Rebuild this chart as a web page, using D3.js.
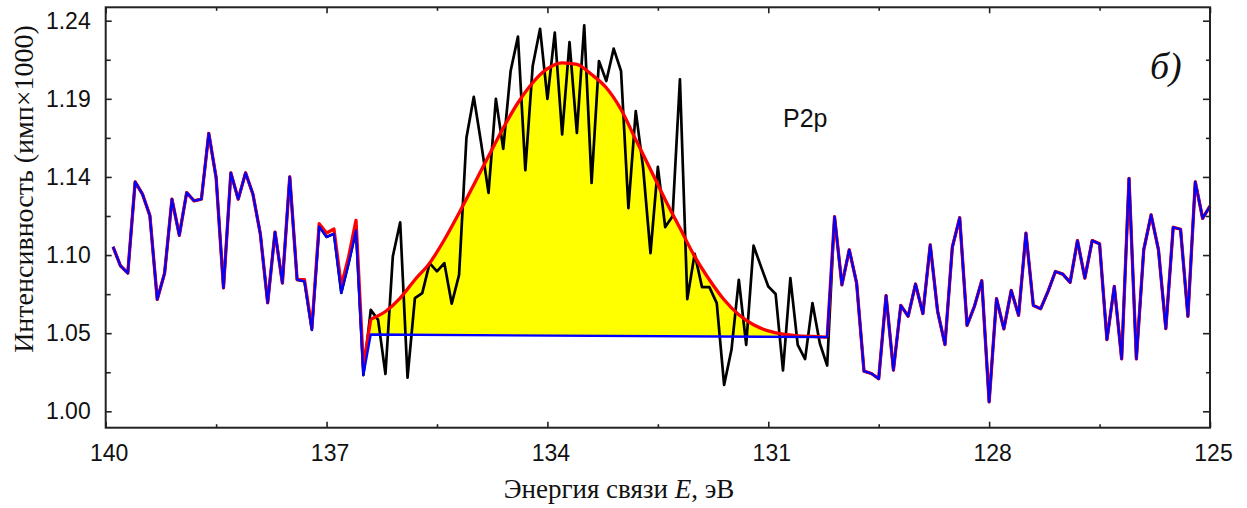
<!DOCTYPE html>
<html>
<head>
<meta charset="utf-8">
<script src="https://cdn.jsdelivr.net/npm/d3@7/dist/d3.min.js"></script>
<style>
  html, body { margin: 0; padding: 0; background: #fff; }
  svg { display: block; }
</style>
</head>
<body>
<svg id="chart" width="1247" height="508"></svg>
<script>
// P2p XPS spectrum: binding energy (eV) vs intensity (counts x1000)

// Raw counts, 0.1 eV grid, 139.9 ... 136.5 eV (outside the fitted window, low-energy side)
const leftCounts = [
  1.100, 1.0885, 1.084, 1.1395, 1.132, 1.119, 1.068, 1.084, 1.129, 1.107,
  1.133, 1.128, 1.129, 1.169, 1.142, 1.075, 1.145, 1.129, 1.145, 1.132,
  1.108, 1.066, 1.109, 1.078, 1.1425, 1.080, 1.079, 1.0495, 1.1125, 1.106,
  1.108, 1.072, 1.090, 1.110, 1.022
];
// Raw counts, 136.4 ... 130.2 eV (fitted window)
const peakCounts = [
  1.0617, 1.0556, 1.0227, 1.0942, 1.1149, 1.0205, 1.0688, 1.0719, 1.0901, 1.0851,
  1.0901, 1.0654, 1.083, 1.1663, 1.1912, 1.163, 1.1328, 1.190, 1.1596, 1.2069,
  1.2278, 1.1466, 1.2099, 1.2326, 1.190, 1.2302, 1.1683, 1.2245, 1.1693, 1.2347,
  1.1389, 1.213, 1.2008, 1.2205, 1.2069, 1.1236, 1.1825, 1.148, 1.0962, 1.1486,
  1.112, 1.1186, 1.2018, 1.0682, 1.0958, 1.0755, 1.0755, 1.0658, 1.016, 1.0374,
  1.080, 1.0404, 1.1007, 1.0881, 1.0759, 1.0713, 1.0248, 1.081, 1.0404, 1.0317,
  1.0658, 1.0414, 1.0278
];
// Raw counts, 130.1 ... 125.0 eV
const rightCounts = [
  1.1183, 1.0769, 1.0982, 1.078, 1.0244, 1.023, 1.0198, 1.0703, 1.025, 1.0644,
  1.0578, 1.0774, 1.0594, 1.1012, 1.0608, 1.0406, 1.0998, 1.1177, 1.0523, 1.0638,
  1.0794, 1.0057, 1.0685, 1.0501, 1.0735, 1.0584, 1.1083, 1.0644, 1.0624, 1.0729,
  1.085, 1.0834, 1.0784, 1.1038, 1.081, 1.1038, 1.1018, 1.0436, 1.0759, 1.0319,
  1.1416, 1.0319, 1.0982, 1.1194, 1.0982, 1.0503, 1.1119, 1.1107, 1.0578, 1.1395,
  1.1173, 1.1248
];
// Envelope (background + P2p component), 137.3 ... 136.5 eV, where it leaves the raw trace
const envelopeTail = [1.080, 1.0505, 1.1141, 1.1084, 1.1108, 1.0763, 1.094, 1.1161, 1.0272];
// Fitted envelope, 0.2 eV grid, 136.4 ... 130.2 eV
const fitCurve = [
  1.056, 1.0607, 1.0688, 1.080, 1.0901, 1.1043, 1.1206, 1.1378, 1.1551, 1.1723,
  1.1876, 1.1998, 1.2083, 1.2119, 1.2109, 1.2048, 1.1967, 1.1835, 1.1652, 1.147,
  1.1287, 1.1114, 1.0942, 1.080, 1.0678, 1.0587, 1.0526, 1.0489, 1.0469, 1.0459,
  1.0455, 1.0451
];
// Linear background under the peak: [energy, counts]
const background = [[136.4, 1.0467], [130.2, 1.0451]];

// Axis ticks
const xTicks = [140, 137, 134, 131, 128, 125];
const xMinorTicks = [138.5, 135.5, 132.5, 129.5, 126.5];
const yTicks = [1.0, 1.0475, 1.095, 1.1425, 1.19, 1.2375];
const yTickLabels = ["1.00", "1.05", "1.10", "1.14", "1.19", "1.24"];
const yMinorTicks = [1.02375, 1.07125, 1.11875, 1.16625, 1.21375];

// Energy grids (decreasing)
const grid = (start, n, step) => d3.range(n).map(i => +(start - step * i).toFixed(1));
const pairs = (start, vals, step = 0.1) => grid(start, vals.length, step).map((e, i) => [e, vals[i]]);

const leftPts = pairs(139.9, leftCounts);
const peakPts = pairs(136.4, peakCounts);
const rightPts = pairs(130.1, rightCounts);
const tailPts = pairs(137.3, envelopeTail);
const fitPts = pairs(136.4, fitCurve, 0.2);

const svg = d3.select("#chart");
const L = 105.7, R = 1210, T = 7.3, B = 427.7;

const x = d3.scaleLinear().domain([140, 125]).range([L, R]);
const y = d3.scaleLinear().domain([0.99003, 1.24565]).range([B, T]);
const bg = d3.scaleLinear().domain(background.map(d => d[0])).range(background.map(d => d[1]));

const line = d3.line().x(d => x(d[0])).y(d => y(d[1]));
const smooth = d3.line().x(d => x(d[0])).y(d => y(d[1])).curve(d3.curveMonotoneX);

// Peak area between background and envelope
svg.append("path")
  .datum(fitPts)
  .attr("fill", "#ffff00")
  .attr("d", d3.area()
    .x(d => x(d[0]))
    .y0(d => y(bg(d[0])))
    .y1(d => y(d[1]))
    .curve(d3.curveMonotoneX));

// Raw spectrum
svg.append("path")
  .datum(leftPts.concat(peakPts, rightPts))
  .attr("fill", "none").attr("stroke", "#000").attr("stroke-width", 2.7)
  .attr("stroke-linejoin", "round")
  .attr("d", line);

// Envelope
const redStyle = p => p.attr("fill", "none").attr("stroke", "#ff0000")
  .attr("stroke-width", 3.3).attr("stroke-linejoin", "round");
svg.append("path")
  .datum(leftPts.slice(0, 26).concat(tailPts, [fitPts[0]]))
  .call(redStyle).attr("d", line);
svg.append("path").datum(fitPts).call(redStyle).attr("d", smooth);
svg.append("path")
  .datum([fitPts[fitPts.length - 1]].concat(rightPts))
  .call(redStyle).attr("d", line);

// Background-subtracted trace / baseline
svg.append("path")
  .datum(leftPts.concat(background, rightPts))
  .attr("fill", "none").attr("stroke", "#0000ff").attr("stroke-width", 2.3)
  .attr("stroke-linejoin", "round")
  .attr("d", line);

// Frame
svg.append("rect")
  .attr("x", L).attr("y", T).attr("width", R - L).attr("height", B - T)
  .attr("fill", "none").attr("stroke", "#222").attr("stroke-width", 2);

const font = "'Liberation Sans', Arial, sans-serif";
const serif = "'Liberation Serif', 'Times New Roman', serif";

function styleAxis(g) {
  g.select(".domain").remove();
  g.selectAll(".tick line").attr("stroke", "#222").attr("stroke-width", 1.6);
  g.selectAll("text").attr("font-family", font).attr("font-size", 23).attr("fill", "#111");
}

// Bottom axis
svg.append("g").attr("transform", `translate(0,${B})`)
  .call(d3.axisBottom(x).tickValues(xTicks).tickFormat(d3.format("d")).tickSize(-6).tickPadding(16.5))
  .call(styleAxis)
  .call(g => g.selectAll("text").attr("dx", 3));
svg.append("g").attr("transform", `translate(0,${B})`)
  .call(d3.axisBottom(x).tickValues(xMinorTicks).tickFormat("").tickSize(-3.5))
  .call(styleAxis);
// Top axis
svg.append("g").attr("transform", `translate(0,${T})`)
  .call(d3.axisTop(x).tickValues(xTicks).tickFormat("").tickSize(-6))
  .call(styleAxis);
svg.append("g").attr("transform", `translate(0,${T})`)
  .call(d3.axisTop(x).tickValues(xMinorTicks).tickFormat("").tickSize(-3.5))
  .call(styleAxis);

// Left axis
svg.append("g").attr("transform", `translate(${L},0)`)
  .call(d3.axisLeft(y).tickValues(yTicks).tickFormat((d, i) => yTickLabels[i]).tickSize(-6).tickPadding(15))
  .call(styleAxis);
svg.append("g").attr("transform", `translate(${L},0)`)
  .call(d3.axisLeft(y).tickValues(yMinorTicks).tickFormat("").tickSize(-5))
  .call(styleAxis);
// Right axis
svg.append("g").attr("transform", `translate(${R},0)`)
  .call(d3.axisRight(y).tickValues(yTicks).tickFormat("").tickSize(-7))
  .call(styleAxis);
svg.append("g").attr("transform", `translate(${R},0)`)
  .call(d3.axisRight(y).tickValues(yMinorTicks).tickFormat("").tickSize(-4))
  .call(styleAxis);

// Axis titles
const xTitle = svg.append("text")
  .attr("x", 619).attr("y", 498)
  .attr("text-anchor", "middle")
  .attr("font-family", serif).attr("font-size", 27).attr("fill", "#111");
xTitle.append("tspan").text("Энергия связи ");
xTitle.append("tspan").attr("font-style", "italic").text("E");
xTitle.append("tspan").text(", эВ");

svg.append("text")
  .attr("transform", "translate(33,189) rotate(-90)")
  .attr("text-anchor", "middle")
  .attr("font-family", serif).attr("font-size", 28).attr("fill", "#111")
  .text("Интенсивность (имп×1000)");

// Annotations
svg.append("text")
  .attr("x", 783).attr("y", 127)
  .attr("font-family", font).attr("font-size", 25).attr("fill", "#111")
  .text("P2p");

svg.append("text")
  .attr("x", 1150).attr("y", 79)
  .attr("font-family", serif).attr("font-style", "italic").attr("font-size", 38).attr("fill", "#111")
  .text("б)");
</script>
</body>
</html>
